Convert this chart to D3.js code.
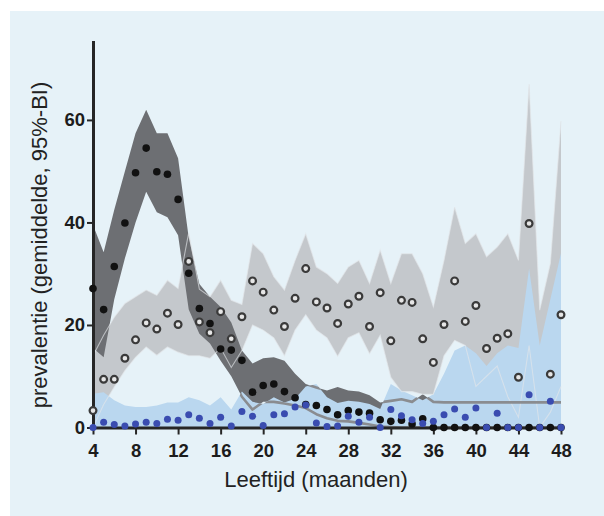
<!DOCTYPE html>
<html>
<head>
<meta charset="utf-8">
<script src="https://cdn.jsdelivr.net/npm/d3@7"></script>
<style>
  html, body { margin: 0; padding: 0; background: #ffffff; }
  svg { display: block; }
  text { font-family: "Liberation Sans", Arial, Helvetica, sans-serif; }
</style>
</head>
<body>
<svg id="chart" width="604" height="516"></svg>
<script>
// Age in months
const months = [4, 5, 6, 7, 8, 9, 10, 11, 12, 13, 14, 15, 16, 17, 18, 19, 20, 21, 22, 23, 24, 25,
  26, 27, 28, 29, 30, 31, 32, 33, 34, 35, 36, 37, 38, 39, 40, 41, 42, 43, 44, 45, 46, 47, 48];

// Series A (filled black dots, dark band): mean and 95% interval
const meanA = [27.1, 23.0, 31.4, 39.9, 49.7, 54.5, 49.9, 49.4, 44.5, 30.1, 23.2, 20.3, 15.3, 15.1,
  13.1, 6.9, 8.2, 8.5, 7.0, 5.8, 4.5, 4.3, 3.5, 2.5, 3.3, 3.0, 2.8, 1.5, 1.2, 1.4, 0.7, 1.7,
  0, 0, 0, 0, 0, 0, 0, 0, 0, 0, 0, 0, 0];
const loA = [15.5, 13.7, 25, 33, 40, 46, 42, 41, 37.5, 23, 18.3, 16.4, 13, 10, 6, 3.5, 5, 5, 4.7,
  4.3, 3.8, 2.6, 1.8, 1.3, 1.2, 0.9, 0.6, 0.2, 0.1, 0, 0, 0, 0, 0, 0, 0, 0, 0, 0, 0, 0, 0, 0, 0, 0];
const hiA = [39.5, 34.2, 42.5, 50, 57.4, 62, 57.4, 57.4, 52.5, 37, 28, 25.5, 23.5, 20.5, 15, 12.5,
  13.5, 13.7, 13, 10.5, 8.5, 7.8, 7.2, 7.9, 7.2, 7.0, 6.3, 4.9, 5.2, 5.5, 5.0, 6.5, 5.0,
  4.9, 4.9, 4.9, 4.9, 4.9, 4.9, 4.9, 4.9, 4.9, 4.9, 4.9, 4.9];

// Series B (open circles, light grey band): mean and 95% interval (null = no estimate)
const meanB = [3.3, 9.4, 9.4, 13.5, 17.1, 20.4, 19.2, 22.3, 20.1, 32.4, 20.6, 18.5, 22.6, 17.3,
  21.6, 28.6, 26.4, 22.9, 19.7, 25.2, 31.0, 24.5, 23.3, 20.3, 24.1, 25.6, 19.7, 26.3, 16.9,
  24.8, 24.4, 17.3, 12.7, 20.1, 28.6, 20.7, 23.8, 15.4, 17.4, 18.3, 9.8, 39.8, null, 10.4, 22.0];
const loB = [0, 4.5, 7.9, 11.1, 13.7, 15.7, 14.1, 15.7, 14.7, 14, 14, 13.5, 15.5, 11.7, 15, 20,
  19, 17.5, 14, 19, 22, 19, 17.5, 13.9, 17.5, 18.5, 14.4, 18, 9.8, 7, 7, 6.5, 6.5, 14, 17, 16,
  8, 10, 12, 6, 2, 16, 0, 3, 8];
const hiB = [14, 18, 21.5, 24.2, 25.5, 26.8, 25.8, 28.7, 27.1, 38, 27, 25.5, 28.7, 24.8, 24,
  35.9, 33.9, 29.4, 26.8, 32.6, 37.8, 31.3, 30.0, 28.1, 31.3, 32.6, 28.1, 34.6, 28.1, 33.9,
  33.9, 30.0, 23.5, 32.6, 43, 35.9, 37.8, 33.3, 35.2, 37.8, 32.6, 67, 22.9, 32, 59.8];

// Series C (blue dots, light blue band): mean and 95% interval
const meanC = [0, 1.0, 0.6, 0.3, 0.7, 1.0, 0.8, 1.6, 1.4, 2.5, 1.8, 0.8, 2.0, 0.3, 3.1, 2.2, 0.4,
  2.5, 2.7, 4.0, 4.4, 0.9, 0.2, 0.3, 2.2, 1.0, 2.0, 0, 3.5, 2.3, 1.5, 0.8, 1.2, 2.5, 3.6, 2.0,
  3.8, 0, 2.8, 0, 0, 6.4, 0, 5.1, 0];
const loC = [0, 0, 0, 0, 0, 0, 0, 0, 0, 0, 0, 0, 0, 0, 0, 0, 0, 0, 0, 0, 0, 0, 0, 0, 0, 0, 0, 0,
  0, 0, 0, 0, 0, 0, 0, 0, 0, 0, 0, 0, 0, 0, 0, 0, 0];
const hiC = [6.6, 6.9, 5.3, 4.3, 4.0, 4.0, 4.3, 4.9, 4.9, 5.9, 5.3, 4.3, 5.9, 3.5, 7, 5, 4.6, 5.9,
  4.9, 5.6, 8, 8.5, 5.9, 4.8, 5.2, 5, 4.6, 3.6, 8.5, 7.2, 6.3, 5.3, 6.5, 10.5, 15, 16, 14.5, 12,
  14.5, 16, 15.5, 31, 16, 25, 34];

// Axis ticks and titles
const xTicks = [4, 8, 12, 16, 20, 24, 28, 32, 36, 40, 44, 48];
const yTicks = [0, 20, 40, 60];
const xTitle = "Leeftijd (maanden)";
const yTitle = "prevalentie (gemiddelde, 95%-BI)";

const svg = d3.select("#chart");

// light blue panel
svg.append("rect")
  .attr("x", 10).attr("y", 11)
  .attr("width", 594).attr("height", 505)
  .attr("fill", "#e6f2f8");

const x = d3.scaleLinear().domain([4, 48]).range([93, 561]);
const y = d3.scaleLinear().domain([0, 75.2]).range([427.5, 42]);

const bandPath = (lo, hi) => d3.area()
  .x((d, i) => x(months[i]))
  .y0((d, i) => y(lo[i]))
  .y1((d, i) => y(hi[i]))(months);

const edgePath = (v) => d3.line()
  .x((d, i) => x(months[i]))
  .y((d, i) => y(v[i]))(months);

// clip region = area of the blue band
svg.append("defs").append("clipPath").attr("id", "blueBand")
  .append("path").attr("d", bandPath(loC, hiC));

// band fills
svg.append("path").attr("d", bandPath(loB, hiB)).attr("fill", "#c4c8cc");
svg.append("path").attr("d", bandPath(loA, hiA)).attr("fill", "#6d6f73");
svg.append("path").attr("d", bandPath(loC, hiC)).attr("fill", "#bad7ef");

// outlines of the grey band (thin, light)
[loB, hiB].forEach(v => {
  svg.append("path").attr("d", edgePath(v))
    .attr("fill", "none")
    .attr("stroke", "#e4e7ea")
    .attr("stroke-opacity", 0.65)
    .attr("stroke-width", 1.1);
});

// outlines of the dark band where they run through the blue band
const darkEdges = svg.append("g").attr("clip-path", "url(#blueBand)");
[loA, hiA].forEach(v => {
  darkEdges.append("path").attr("d", edgePath(v))
    .attr("fill", "none")
    .attr("stroke", "#8a8c90")
    .attr("stroke-width", 2.6)
    .attr("stroke-linejoin", "round");
});

// axes
const axisColor = "#262626";
const yAxis = svg.append("g")
  .attr("transform", `translate(${x(4)},0)`)
  .call(d3.axisLeft(y).tickValues(yTicks).tickSize(6).tickSizeOuter(0).tickPadding(2));
const xAxis = svg.append("g")
  .attr("transform", `translate(0,${y(0)})`)
  .call(d3.axisBottom(x).tickValues(xTicks).tickSize(7).tickSizeOuter(0).tickPadding(9.5));

[yAxis, xAxis].forEach(g => {
  g.select(".domain").attr("stroke", axisColor).attr("stroke-width", 3).attr("stroke-linecap", "square");
  g.selectAll(".tick line").attr("stroke", axisColor).attr("stroke-width", 2);
  g.selectAll(".tick text")
    .attr("fill", "#1c1c1c")
    .style("font-size", "18.5px")
    .style("font-weight", "bold")
    .style("font-family", "'Liberation Sans', Arial, sans-serif");
});

// axis titles
svg.append("text")
  .attr("x", 316).attr("y", 487)
  .attr("text-anchor", "middle")
  .attr("fill", "#222")
  .style("font-size", "22px")
  .text(xTitle);

svg.append("text")
  .attr("transform", "translate(47,245) rotate(-90)")
  .attr("text-anchor", "middle")
  .attr("fill", "#222")
  .style("font-size", "22px")
  .text(yTitle);

// points
const pts = months.map((m, i) => ({ m, a: meanA[i], b: meanB[i], c: meanC[i] }));

svg.append("g").selectAll("circle").data(pts).join("circle")
  .attr("cx", d => x(d.m)).attr("cy", d => y(d.a))
  .attr("r", 3.8).attr("fill", "#111");

svg.append("g").selectAll("circle").data(pts.filter(d => d.b !== null)).join("circle")
  .attr("cx", d => x(d.m)).attr("cy", d => y(d.b))
  .attr("r", 3.4)
  .attr("fill", "#e6e6e6")
  .attr("stroke", "#3a3a3a")
  .attr("stroke-width", 2.2);

svg.append("g").selectAll("circle").data(pts).join("circle")
  .attr("cx", d => x(d.m)).attr("cy", d => y(d.c))
  .attr("r", 3.5).attr("fill", "#3a4cb0");
</script>
</body>
</html>
